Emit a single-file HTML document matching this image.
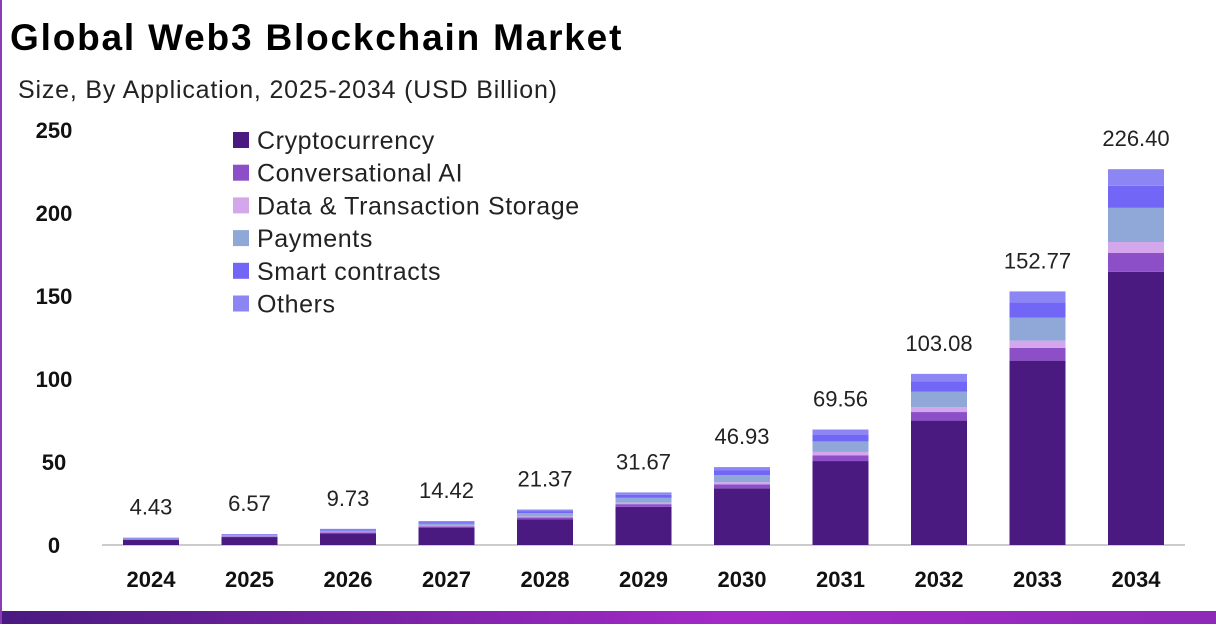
<!DOCTYPE html>
<html><head><meta charset="utf-8"><style>
body{margin:0;width:1216px;height:624px;background:#fff;overflow:hidden;font-family:"Liberation Sans",sans-serif}
#wrap{position:absolute;left:0;top:0;width:1216px;height:624px;border-left:2px solid #8a3bb5;box-sizing:border-box}
#bottom{position:absolute;left:0;top:611px;width:1216px;height:13px;background:linear-gradient(90deg,#4a1a80,#a42ac8 60%,#8e2ab8)}
</style></head><body>
<div id="wrap">
<svg width="1216" height="624">
<text x="8" y="50" font-size="37" font-weight="bold" fill="#000" letter-spacing="0.6" textLength="612">Global Web3 Blockchain Market</text>
<text x="16" y="98" font-size="25" fill="#222" textLength="539">Size, By Application, 2025-2034 (USD Billion)</text>
<g id="yaxis"></g>
<line x1="100" x2="1183" y1="545" y2="545" stroke="#bbb" stroke-width="1.5"/>
<g id="bars"></g>
<g id="xaxis"></g>
<g id="legend"></g>
</svg>
<div id="bottom"></div>
</div>
<script>
const years=["2024","2025","2026","2027","2028","2029","2030","2031","2032","2033","2034"];
const totals=[4.43,6.57,9.73,14.42,21.37,31.67,46.93,69.56,103.08,152.77,226.40];
const crypto=[3.22,4.78,7.07,10.48,15.54,23.02,34.12,50.57,74.94,111.06,164.6];
const convAI=[0.22,0.33,0.49,0.72,1.07,1.58,2.35,3.48,5.15,7.64,11.3];
const dataStorage=[0.13,0.19,0.28,0.42,0.62,0.92,1.36,2.02,2.99,4.43,6.6];
const payments=[0.40,0.60,0.89,1.31,1.94,2.88,4.27,6.33,9.38,13.9,20.6];
const smart=[0.26,0.39,0.57,0.85,1.26,1.87,2.77,4.10,6.08,9.01,13.3];
const others=[0.20,0.28,0.43,0.64,0.94,1.40,2.06,3.06,4.54,6.73,10.0];
const seriesNames=["Cryptocurrency","Conversational AI","Data & Transaction Storage","Payments","Smart contracts","Others"];
const yTicks=[0,50,100,150,200,250];
const series=[crypto,convAI,dataStorage,payments,smart,others];
const colors=["#4a1a80","#8c4fc8","#d4a6ec","#8fa8d8","#7266f6","#8b86f4"];
const NS="http://www.w3.org/2000/svg";
const y=v=>545-v*1.66;
const x=i=>149+i*98.5;
const bw=56;
function mk(t,a,p,txt){const e=document.createElementNS(NS,t);for(const k in a)e.setAttribute(k,a[k]);if(txt!==undefined)e.textContent=txt;p.appendChild(e);return e;}
const ya=document.getElementById('yaxis');
yTicks.forEach(t=>{const e=mk('text',{x:52,y:y(t)+8,'font-size':22,'font-weight':'bold','text-anchor':'middle',fill:'#111'},ya,t);

});
const bg=document.getElementById('bars'),xa=document.getElementById('xaxis');
years.forEach((yr,i)=>{let acc=0;
series.forEach((s,k)=>{const r=mk('rect',{x:x(i)-bw/2,y:y(acc+s[i]),width:bw,height:y(acc)-y(acc+s[i]),fill:colors[k]},bg);


acc+=s[i];});
const v=mk('text',{x:x(i),y:y(totals[i])-23,'font-size':22,'text-anchor':'middle',fill:'#222'},bg,totals[i].toFixed(2));


const l=mk('text',{x:x(i),y:587,'font-size':22,'font-weight':'bold','text-anchor':'middle',fill:'#111'},xa,yr);

});
const lg=document.getElementById('legend');
seriesNames.forEach((n,k)=>{const yy=140+k*32.7;
const g=mk('g',{},lg);


mk('rect',{x:231,y:yy-8,width:16,height:16,fill:colors[k]},g);
mk('text',{x:255,y:yy+9,'font-size':25,fill:'#222','letter-spacing':'0.6'},g,n);});
</script>
</body></html>
